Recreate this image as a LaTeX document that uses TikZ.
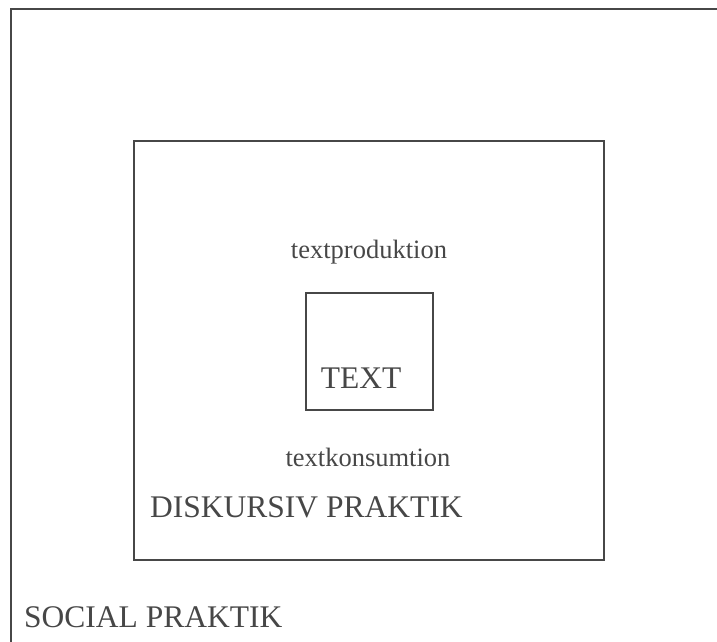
\documentclass[tikz,border=0pt]{standalone}
\usepackage{fontspec}
\setmainfont{Liberation Serif}
\usetikzlibrary{positioning}

\begin{document}
\begin{tikzpicture}[x=1pt, y=1pt,
  frame/.style={shape=rectangle, draw=black!72, line width=2pt, inner sep=0pt},
  bigtext/.style={inner sep=0pt, text=black!72, font=\fontsize{31.5}{36}\selectfont},
  smalltext/.style={inner sep=0pt, text=black!72, font=\fontsize{26.5}{30}\selectfont}]
\useasboundingbox (0,0) rectangle (717,641);
\clip (0,0) rectangle (717,641);
%frames
\node[frame, minimum width=716pt, minimum height=642pt] (social) at (369,311) {};
\node[frame, minimum width=470pt, minimum height=419pt] (diskursiv) at (369,290.5) {};
\node[frame, minimum width=127pt, minimum height=117pt] (text) at (369.5,289.5) {};
%labels
\node[smalltext, anchor=base] (prod) at (369,383) {textproduktion};
\node[bigtext, anchor=base] (textlbl) at (361,253) {TEXT};
\node[smalltext, anchor=base] (kons) at (368,175) {textkonsumtion};
\node[bigtext, anchor=base west] (dplbl) at (150,124) {DISKURSIV PRAKTIK};
\node[bigtext, anchor=base west] (splbl) at (24,14) {SOCIAL PRAKTIK};
\end{tikzpicture}
\end{document}
